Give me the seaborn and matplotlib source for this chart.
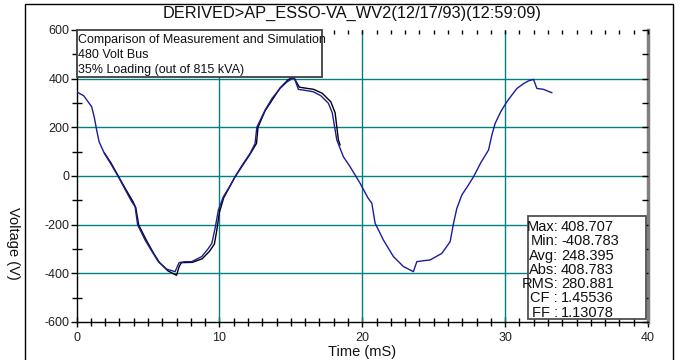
import numpy as np
import pandas as pd
import matplotlib
matplotlib.use("Agg")
import matplotlib.pyplot as plt
from matplotlib.patches import Rectangle
from matplotlib.ticker import MultipleLocator
import seaborn as sns

# ---------------- data ----------------
sim_t = [0.0, 0.5, 1.06, 1.25, 1.41, 1.58, 1.95, 2.4, 2.93, 3.4, 3.86, 4.1, 4.28, 4.8, 5.3,
         5.73, 6.32, 6.9, 7.18, 7.6, 8.06, 8.77, 9.2, 9.47, 9.7, 9.93, 10.28, 10.7, 11.1,
         11.6, 12.15, 12.5, 12.62, 13.2, 13.7, 14.25, 14.7, 15.07, 15.25, 15.53, 16.0,
         16.58, 17.1, 17.63, 17.9, 18.22, 18.68, 19.15, 19.85, 20.4, 20.67, 20.9, 21.48,
         22.18, 22.88, 23.58, 23.82, 24.3, 24.75, 25.57, 26.15, 26.39, 26.62, 26.97,
         27.4, 27.79, 28.3, 28.84, 29.07, 29.3, 29.7, 30.12, 30.5, 30.83, 31.3, 31.64,
         31.99, 32.22, 32.69, 33.28]
sim_v = [346, 330, 285, 240, 189, 141, 93, 50, -3, -55, -105, -126, -201, -263, -312,
         -352, -383, -393, -356, -352, -352, -331, -300, -277, -215, -140, -85, -45, -3,
         45, 93, 134, 200, 271, 320, 360, 385, 400, 402, 356, 352,
         346, 330, 299, 260, 148, 79, 38, -30, -90, -112, -194, -263,
         -331, -372, -393, -352, -348, -345, -318, -270, -194, -133, -78,
         -40, -3, 55, 107, 168, 216, 265, 305, 335, 360, 380, 391,
         397, 360, 356, 342]

meas_t = [1.95, 2.4, 2.95, 3.4, 3.95, 4.15, 4.35, 4.9, 5.4, 5.8, 6.4, 7.0, 7.2, 7.35,
          8.1, 8.8, 9.3, 9.65, 9.8, 10.0, 10.3, 11.1, 12.15, 12.6, 12.7, 13.2, 14.25,
          14.8, 15.18, 15.5, 15.6, 16.6, 17.2, 17.8, 18.1, 18.33, 18.45]
meas_v = [95, 55, -3, -50, -105, -130, -201, -265, -318, -355, -390, -408, -370, -356,
          -355, -340, -310, -280, -230, -150, -90, -3, 90, 134, 200, 268, 362,
          395, 408, 375, 365, 356, 340, 305, 260, 148, 127]

title = "DERIVED>AP_ESSO-VA_WV2(12/17/93)(12:59:09)"
note_lines = ["Comparison of Measurement and Simulation", "480 Volt Bus",
              "35% Loading (out of 815 kVA)"]
stat_labels = ["Max:", "Min:", "Avg:", "Abs:", "RMS:", "CF :", "FF :"]
stat_values = ["408.707", "-408.783", "248.395", "408.783", "280.881", "1.45536", "1.13078"]
xlabel = "Time (mS)"
ylabel = "Voltage (V)"

# ---------------- style ----------------
sns.set_theme(style="white")
plt.rcParams["font.family"] = ["Liberation Sans", "DejaVu Sans"]
plt.rcParams["axes.unicode_minus"] = False

W, H = 681, 360
fig = plt.figure(figsize=(W / 100, H / 100), dpi=100)


def fx(px):
    return px / W


def fy(py):
    return 1 - py / H


ax = fig.add_axes([fx(76.5), fy(322), fx(648) - fx(76.5), fy(30) - fy(322)])

sim = pd.DataFrame({"t": sim_t, "v": sim_v})
meas = pd.DataFrame({"t": meas_t, "v": meas_v})
sns.lineplot(data=meas, x="t", y="v", ax=ax, color="black", lw=1.0, sort=False, zorder=3)
sns.lineplot(data=sim, x="t", y="v", ax=ax, color="#1c1c9c", lw=1.0, sort=False, zorder=4)

ax.set_xlim(0, 40)
ax.set_ylim(-600, 600)
ax.xaxis.set_major_locator(MultipleLocator(10))
ax.xaxis.set_minor_locator(MultipleLocator(1))
ax.yaxis.set_major_locator(MultipleLocator(200))
ax.yaxis.set_minor_locator(MultipleLocator(100))

# grid lines (teal)
for gx in [10, 20, 30]:
    ax.axvline(gx, color="#008080", lw=1.0, zorder=1)
for gy in [-400, -200, 0, 200, 400]:
    ax.axhline(gy, color="#008080", lw=1.0, zorder=1)

for s in ["left", "bottom"]:
    ax.spines[s].set_color("black")
    ax.spines[s].set_linewidth(1.0)
ax.spines["top"].set_visible(False)
ax.spines["right"].set_color("#808080")
ax.spines["right"].set_linewidth(2.5)

ax.tick_params(axis="both", which="both", top=False, right=False, color="black", width=1)
ax.tick_params(axis="y", which="major", direction="out", length=4, labelsize=9, pad=1,
               labelcolor="#222222")
ax.tick_params(axis="y", which="minor", direction="inout", length=7)
ax.tick_params(axis="x", which="major", direction="inout", length=7, labelsize=9, pad=4,
               labelcolor="#222222")
ax.tick_params(axis="x", which="minor", direction="inout", length=6)
ax.set_xlabel("")
ax.set_ylabel("")

# top ticks (pointing in)
axt = ax.twiny()
axt.set_xlim(0, 40)
axt.xaxis.set_major_locator(MultipleLocator(1))
axt.tick_params(axis="x", which="both", top=True, bottom=False, labeltop=False,
                labelbottom=False, direction="in", length=3, width=1, color="black")
for s in axt.spines.values():
    s.set_visible(False)

# right ticks (pointing in)
axr = ax.twinx()
axr.set_ylim(-600, 600)
axr.yaxis.set_major_locator(MultipleLocator(100))
axr.tick_params(axis="y", which="both", right=True, left=False, labelright=False,
                labelleft=False, direction="in", length=4, width=1, color="black")
for s in axr.spines.values():
    s.set_visible(False)

# note box
fig.patches.append(Rectangle((fx(77), fy(77)), fx(322) - fx(77), fy(30) - fy(77),
                             transform=fig.transFigure, facecolor="white",
                             edgecolor="#404040", lw=1.3, zorder=5))
for i, line in enumerate(note_lines):
    fig.text(fx(78), fy(40 + i * 15), line, fontsize=9, ha="left", va="center",
             color="#111111", zorder=6)

# stats box
fig.patches.append(Rectangle((fx(528), fy(319)), fx(646) - fx(528), fy(216) - fy(319),
                             transform=fig.transFigure, facecolor="white",
                             edgecolor="#505050", lw=1.3, zorder=5))
for i, (lab, val) in enumerate(zip(stat_labels, stat_values)):
    yy = fy(227 + i * 14.3)
    fig.text(fx(558), yy, lab, fontsize=10.5, ha="right", va="center", color="#111111",
             zorder=6)
    fig.text(fx(561), yy, val, fontsize=10.5, ha="left", va="center", color="#111111",
             zorder=6)

# title and labels
fig.text(fx(352), fy(13), title, fontsize=11.8, ha="center", va="center", color="#111111")
fig.text(fx(362), fy(352), xlabel, fontsize=10.5, ha="center", va="center", color="#111111")
fig.text(fx(13), fy(243), ylabel, fontsize=10.5, ha="center", va="center", rotation=270,
         color="#111111")

# outer frame
fig.patches.append(Rectangle((fx(25), -0.1), fx(673) - fx(25), fy(4) + 0.1,
                             transform=fig.transFigure, fill=False, edgecolor="black",
                             lw=1.0, zorder=0))

fig.savefig("out.png", dpi=100)
